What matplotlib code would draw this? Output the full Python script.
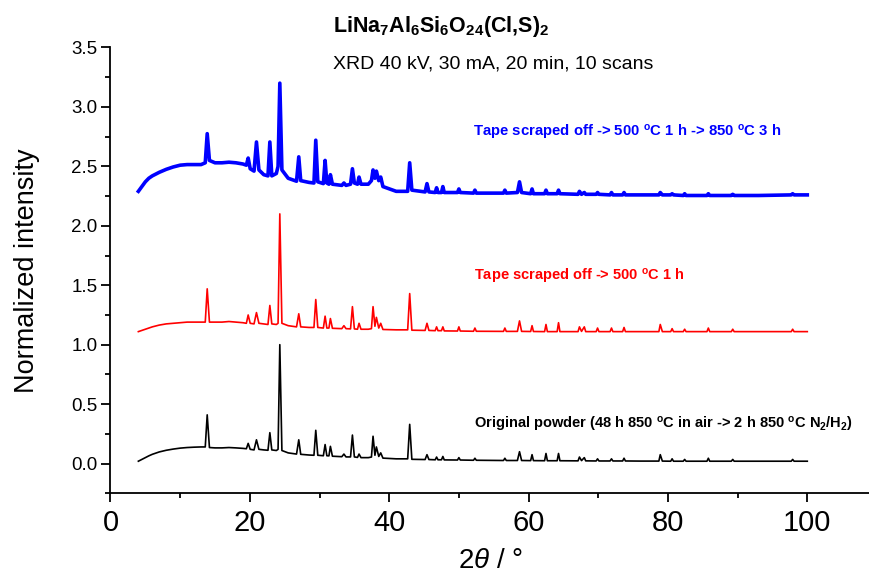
import matplotlib
matplotlib.use("Agg")
import numpy as np
from matplotlib import pyplot as plt
from matplotlib.ticker import MultipleLocator, FormatStrFormatter

plt.rcParams['font.family'] = ['Liberation Sans', 'DejaVu Sans']
plt.rcParams['mathtext.fontset'] = 'custom'
plt.rcParams['mathtext.rm'] = 'Liberation Sans'
plt.rcParams['mathtext.it'] = 'Liberation Sans:italic'
plt.rcParams['mathtext.bf'] = 'Liberation Sans:bold'

# 2theta positions (deg) shared by the three scans
two_theta = [
    4.0, 4.5, 5.0, 5.5, 6.0, 7.0, 8.0, 9.0, 10.0, 11.0,
    12.0, 13.0, 13.6, 13.88, 14.2, 15.0, 16.0, 17.0, 18.0, 19.0,
    19.5, 19.76, 20.05, 20.6, 20.95, 21.3, 22.0, 22.6, 22.87, 23.15,
    23.8, 24.05, 24.3, 24.6, 25.5, 26.7, 27.02, 27.3, 28.5, 29.2,
    29.46, 29.75, 30.55, 30.8, 31.05, 31.35, 31.56, 31.85, 33.2, 33.5,
    33.8, 34.45, 34.72, 35.0, 35.45, 35.67, 35.95, 37.0, 37.45, 37.68,
    37.95, 38.16, 38.5, 38.78, 39.1, 41.0, 42.65, 42.94, 43.25, 45.15,
    45.42, 45.7, 46.6, 46.8, 47.0, 47.5, 47.7, 47.9, 49.8, 50.0,
    50.2, 52.1, 52.3, 52.5, 56.4, 56.6, 56.8, 58.4, 58.7, 59.0,
    60.3, 60.5, 60.7, 62.3, 62.5, 62.7, 64.1, 64.3, 64.5, 67.1,
    67.3, 67.6, 68.0, 68.2, 69.7, 69.9, 70.1, 71.7, 71.9, 72.1,
    73.5, 73.7, 73.9, 76.0, 78.7, 78.9, 79.2, 80.4, 80.6, 80.8,
    82.2, 82.4, 82.6, 85.6, 85.8, 86.0, 89.1, 89.3, 89.5, 93.0,
    97.7, 97.9, 98.1, 100.0,
]

# original powder (48 h 850 C air -> 2 h 850 C N2/H2)
original = [
    0.02, 0.035, 0.05, 0.065, 0.078, 0.098, 0.112, 0.122, 0.13, 0.135,
    0.138, 0.14, 0.14, 0.41, 0.135, 0.132, 0.132, 0.135, 0.132, 0.128,
    0.125, 0.17, 0.12, 0.115, 0.20, 0.12, 0.115, 0.112, 0.26, 0.115,
    0.11, 0.12, 1.0, 0.11, 0.09, 0.08, 0.20, 0.078, 0.072, 0.07,
    0.28, 0.07, 0.066, 0.16, 0.066, 0.065, 0.145, 0.062, 0.058, 0.08,
    0.056, 0.056, 0.24, 0.056, 0.052, 0.08, 0.05, 0.05, 0.055, 0.23,
    0.07, 0.14, 0.06, 0.09, 0.046, 0.04, 0.04, 0.33, 0.036, 0.034,
    0.075, 0.034, 0.032, 0.055, 0.032, 0.032, 0.06, 0.031, 0.03, 0.05,
    0.03, 0.028, 0.045, 0.028, 0.026, 0.045, 0.026, 0.026, 0.10, 0.026,
    0.025, 0.075, 0.025, 0.024, 0.085, 0.024, 0.024, 0.085, 0.024, 0.023,
    0.055, 0.025, 0.05, 0.023, 0.022, 0.04, 0.022, 0.022, 0.04, 0.022,
    0.022, 0.045, 0.022, 0.021, 0.021, 0.075, 0.021, 0.02, 0.04, 0.02,
    0.02, 0.035, 0.02, 0.02, 0.045, 0.02, 0.02, 0.035, 0.02, 0.02,
    0.02, 0.035, 0.02, 0.02,
]

# tape scraped off -> 500 C 1 h
scraped = [
    1.11, 1.12, 1.13, 1.14, 1.15, 1.165, 1.175, 1.18, 1.185, 1.19,
    1.19, 1.19, 1.19, 1.47, 1.19, 1.19, 1.19, 1.195, 1.19, 1.185,
    1.18, 1.25, 1.18, 1.175, 1.27, 1.18, 1.175, 1.17, 1.33, 1.175,
    1.17, 1.18, 2.10, 1.18, 1.16, 1.15, 1.26, 1.15, 1.145, 1.145,
    1.38, 1.145, 1.14, 1.24, 1.14, 1.14, 1.22, 1.138, 1.135, 1.16,
    1.135, 1.133, 1.32, 1.133, 1.13, 1.18, 1.13, 1.13, 1.135, 1.32,
    1.155, 1.23, 1.14, 1.18, 1.128, 1.125, 1.125, 1.43, 1.122, 1.12,
    1.18, 1.12, 1.118, 1.15, 1.118, 1.118, 1.15, 1.116, 1.115, 1.15,
    1.115, 1.113, 1.14, 1.113, 1.112, 1.14, 1.112, 1.112, 1.20, 1.112,
    1.111, 1.16, 1.111, 1.11, 1.17, 1.11, 1.11, 1.185, 1.11, 1.11,
    1.15, 1.112, 1.15, 1.11, 1.11, 1.14, 1.11, 1.11, 1.14, 1.11,
    1.11, 1.145, 1.11, 1.11, 1.11, 1.17, 1.11, 1.11, 1.135, 1.11,
    1.11, 1.13, 1.11, 1.11, 1.14, 1.11, 1.11, 1.13, 1.11, 1.11,
    1.11, 1.13, 1.11, 1.11,
]

# tape scraped off -> 500 C 1 h -> 850 C 3 h
annealed = [
    2.29, 2.33, 2.37, 2.40, 2.42, 2.45, 2.475, 2.495, 2.51, 2.515,
    2.515, 2.515, 2.53, 2.775, 2.55, 2.53, 2.53, 2.535, 2.53, 2.52,
    2.51, 2.57, 2.48, 2.46, 2.705, 2.47, 2.43, 2.42, 2.705, 2.42,
    2.44, 2.50, 3.20, 2.47, 2.40, 2.375, 2.58, 2.38, 2.365, 2.36,
    2.72, 2.37, 2.355, 2.55, 2.36, 2.35, 2.43, 2.35, 2.34, 2.36,
    2.34, 2.35, 2.48, 2.36, 2.35, 2.41, 2.35, 2.35, 2.38, 2.47,
    2.40, 2.46, 2.38, 2.41, 2.33, 2.29, 2.29, 2.53, 2.30, 2.285,
    2.355, 2.285, 2.28, 2.32, 2.28, 2.28, 2.33, 2.28, 2.28, 2.31,
    2.28, 2.275, 2.30, 2.275, 2.275, 2.30, 2.275, 2.28, 2.37, 2.28,
    2.27, 2.31, 2.27, 2.27, 2.30, 2.27, 2.27, 2.30, 2.27, 2.265,
    2.29, 2.265, 2.28, 2.265, 2.265, 2.28, 2.265, 2.26, 2.28, 2.26,
    2.26, 2.28, 2.26, 2.26, 2.26, 2.28, 2.26, 2.26, 2.27, 2.26,
    2.255, 2.27, 2.255, 2.255, 2.27, 2.255, 2.255, 2.265, 2.255, 2.255,
    2.26, 2.27, 2.26, 2.26,
]

fig = plt.figure(figsize=(8.7, 5.79), dpi=100)
ax = fig.add_axes([0.127, 0.148, 0.873, 0.770])

ax.plot(two_theta, original, color='black', lw=1.2)
ax.plot(two_theta, scraped, color='#ff0000', lw=1.2)
ax.plot(two_theta, annealed, color='#0000ff', lw=2.6)

ax.set_xlim(0, 109)
ax.set_ylim(-0.25, 3.5)
for side in ('top', 'right'):
    ax.spines[side].set_visible(False)
for side in ('left', 'bottom'):
    ax.spines[side].set_linewidth(1.3)

ax.set_xticks([0, 20, 40, 60, 80, 100])
ax.xaxis.set_minor_locator(MultipleLocator(10))
ax.yaxis.set_major_locator(MultipleLocator(0.5))
ax.yaxis.set_minor_locator(MultipleLocator(0.25))
ax.yaxis.set_major_formatter(FormatStrFormatter('%.1f'))
ax.tick_params(which='major', direction='out', length=6.5, width=1.3)
ax.tick_params(which='minor', direction='out', length=3.5, width=1.3)
ax.tick_params(axis='y', labelsize=13.5, pad=3)
ax.tick_params(axis='x', labelsize=21, pad=5)
for lab in ax.get_xticklabels():
    lab.set_family(['Liberation Sans Narrow', 'Liberation Sans'])

ax.set_ylabel('Normalized intensity', fontsize=19.5, labelpad=22)
ax.set_xlabel(r'$\mathit{2\theta}$ / °', fontsize=20, labelpad=8,
              family=['Liberation Sans Narrow', 'Liberation Sans'])

ax.text(31.9, 3.627, r'$\mathbf{LiNa_7Al_6Si_6O_{24}(Cl{,}S)_2}$',
        fontsize=15.5, va='baseline', ha='left', clip_on=False)
ax.text(31.9, 3.324, 'XRD 40 kV, 30 mA, 20 min, 10 scans',
        fontsize=14, va='baseline', ha='left')

ax.text(52.0, 2.753, r'Tape scraped off -> 500 $^{\mathbf{o}}$C 1 h -> 850 $^{\mathbf{o}}$C 3 h',
        fontsize=10.7, fontweight='bold', color='#0000ff', va='baseline')
ax.text(52.1, 1.542, r'Tape scraped off -> 500 $^{\mathbf{o}}$C 1 h',
        fontsize=10.5, fontweight='bold', color='#ff0000', va='baseline')
ax.text(52.1, 0.298,
        r'Original powder (48 h 850 $^{\mathbf{o}}$C in air -> 2 h 850 $^{\mathbf{o}}$C N$_{\mathbf{2}}$/H$_{\mathbf{2}}$)',
        fontsize=10.5, fontweight='bold', color='black', va='baseline')

fig.savefig('out.png', dpi=100)
